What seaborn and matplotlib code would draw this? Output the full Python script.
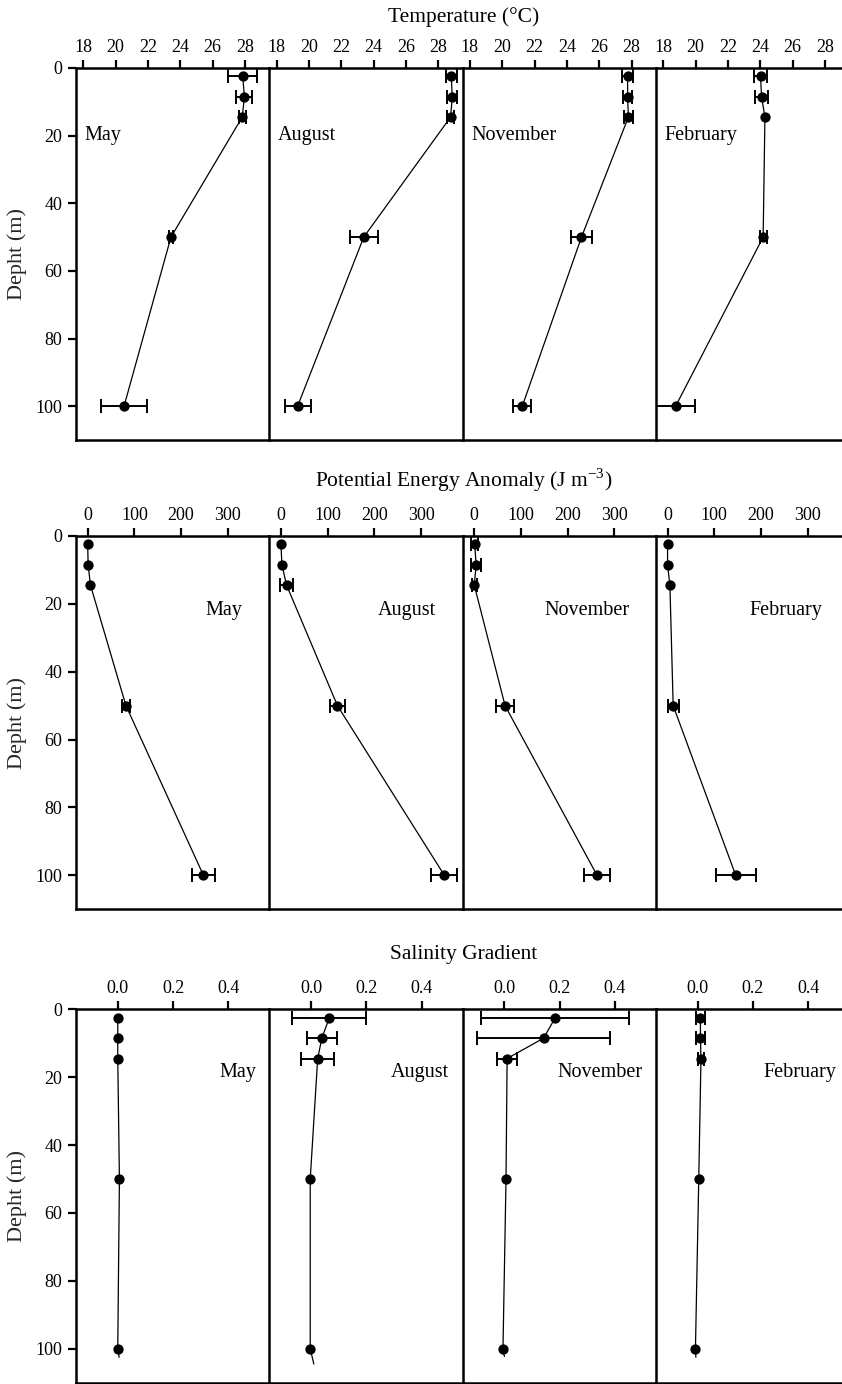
import numpy as np
import matplotlib
matplotlib.use("Agg")
import matplotlib.pyplot as plt
import seaborn as sns

# sampling depths (m) and months shown in each column
depths = [2.5, 8.5, 14.5, 50, 100]
months = ["May", "August", "November", "February"]

# temperature (deg C), one list per month
temp_mean = [[27.86, 27.96, 27.83, 23.42, 20.52],
             [28.80, 28.86, 28.76, 23.39, 19.30],
             [27.75, 27.75, 27.80, 24.90, 21.24],
             [24.02, 24.08, 24.29, 24.18, 18.77]]
temp_err = [[0.90, 0.50, 0.20, 0.15, 1.42],
            [0.34, 0.30, 0.20, 0.85, 0.80],
            [0.32, 0.30, 0.30, 0.67, 0.55],
            [0.38, 0.40, 0.00, 0.22, 1.20]]

# potential energy anomaly (J m-3)
pea_mean = [[0, 1, 6, 82, 248],
            [0, 2, 12, 121, 350],
            [1, 4, 0, 66, 263],
            [0, 0, 5, 12, 146]]
pea_err = [[0, 0, 0, 9, 24],
           [0, 0, 14, 17, 28],
           [7, 10, 5, 20, 27],
           [0, 0, 0, 12, 43]]

# salinity gradient
sal_mean = [[0.000, 0.000, 0.000, 0.006, 0.000],
            [0.066, 0.039, 0.024, -0.003, -0.003],
            [0.184, 0.142, 0.010, 0.006, -0.005],
            [0.010, 0.010, 0.012, 0.004, -0.008]]
sal_err = [[0, 0, 0, 0, 0],
           [0.134, 0.055, 0.060, 0, 0],
           [0.267, 0.240, 0.037, 0, 0],
           [0.015, 0.015, 0.012, 0, 0]]
# short unmarked line end below the last salinity point
sal_tail_depth = [102.5, 104.5, 102.3, 102.5]
sal_tail_value = [0.005, 0.010, 0.000, -0.0065]

sns.set_theme(style="ticks")
plt.rcParams["font.family"] = ["Liberation Serif", "DejaVu Serif"]
plt.rcParams["mathtext.fontset"] = "custom"
plt.rcParams["mathtext.rm"] = "Liberation Serif"

W, H = 842, 1384
fig = plt.figure(figsize=(W / 100, H / 100), dpi=100)

col_left = [76, 269.3, 462.6, 655.9]
col_w = 193.3
rows = [
    dict(top=68, bot=440, mean=temp_mean, err=temp_err, xlim=(17.55, 29.5),
         xticks=np.arange(18, 29, 2), fmt="{:.0f}",
         title="Temperature (\u00b0C)", title_y=17,
         lab_x=18.1, lab_y=20, lab_ha="left"),
    dict(top=536, bot=909.3, mean=pea_mean, err=pea_err, xlim=(-25, 389),
         xticks=[0, 100, 200, 300], fmt="{:.0f}",
         title="Potential Energy Anomaly (J m$^{-3}$)", title_y=480,
         lab_x=332, lab_y=22, lab_ha="right"),
    dict(top=1009.3, bot=1382.7, mean=sal_mean, err=sal_err, xlim=(-0.151, 0.548),
         xticks=[0.0, 0.2, 0.4], fmt="{:.1f}",
         title="Salinity Gradient", title_y=955,
         lab_x=0.5, lab_y=18.7, lab_ha="right"),
]

for r, row in enumerate(rows):
    for c, month in enumerate(months):
        ax = fig.add_axes([col_left[c] / W, 1 - row["bot"] / H,
                           col_w / W, (row["bot"] - row["top"]) / H])
        m = np.array(row["mean"][c], dtype=float)
        e = np.array(row["err"][c], dtype=float)
        d = np.array(depths, dtype=float)

        line_x, line_y = list(m), list(d)
        if r == 2:
            line_x.append(sal_tail_value[c])
            line_y.append(sal_tail_depth[c])
        sns.lineplot(x=line_x, y=line_y, sort=False, orient="y", estimator=None,
                     color="black", lw=0.9, ax=ax, zorder=2)

        has = e > 0
        if has.any():
            ax.errorbar(m[has], d[has], xerr=e[has], fmt="none", ecolor="black",
                        elinewidth=1.4, capsize=5.2, capthick=1.4, zorder=3)
        sns.scatterplot(x=m, y=d, color="black", s=55, edgecolor="black",
                        linewidth=0, ax=ax, zorder=4, legend=False)

        ax.set_xlim(*row["xlim"])
        ax.set_ylim(110, 0)
        ax.set_xticks(row["xticks"])
        ax.set_xticklabels([row["fmt"].format(t) for t in row["xticks"]], fontsize=13)
        ax.xaxis.tick_top()
        ax.tick_params(axis="x", direction="out", length=6, width=1.6, pad=3, colors="black")
        ax.set_xlabel("")
        ax.set_ylabel("")
        if c == 0:
            ax.set_yticks([0, 20, 40, 60, 80, 100])
            ax.set_yticklabels(["0", "20", "40", "60", "80", "100"], fontsize=13)
            ax.tick_params(axis="y", direction="out", length=6, width=1.6, pad=4, colors="black")
            ax.set_ylabel("Depht (m)", fontsize=16, labelpad=6)
        else:
            ax.set_yticks([])
        for side in ["top", "left", "bottom"]:
            ax.spines[side].set_visible(True)
            ax.spines[side].set_linewidth(1.8)
            ax.spines[side].set_color("black")
        ax.spines["right"].set_visible(False)
        ax.set_facecolor("white")

        ax.text(row["lab_x"], row["lab_y"], month, ha=row["lab_ha"], va="center",
                fontsize=14.5, color="black")

    fig.text(464 / W, 1 - row["title_y"] / H, row["title"], ha="center", va="center",
             fontsize=15.5, color="black")

fig.savefig("out.png", dpi=100, facecolor="white")
